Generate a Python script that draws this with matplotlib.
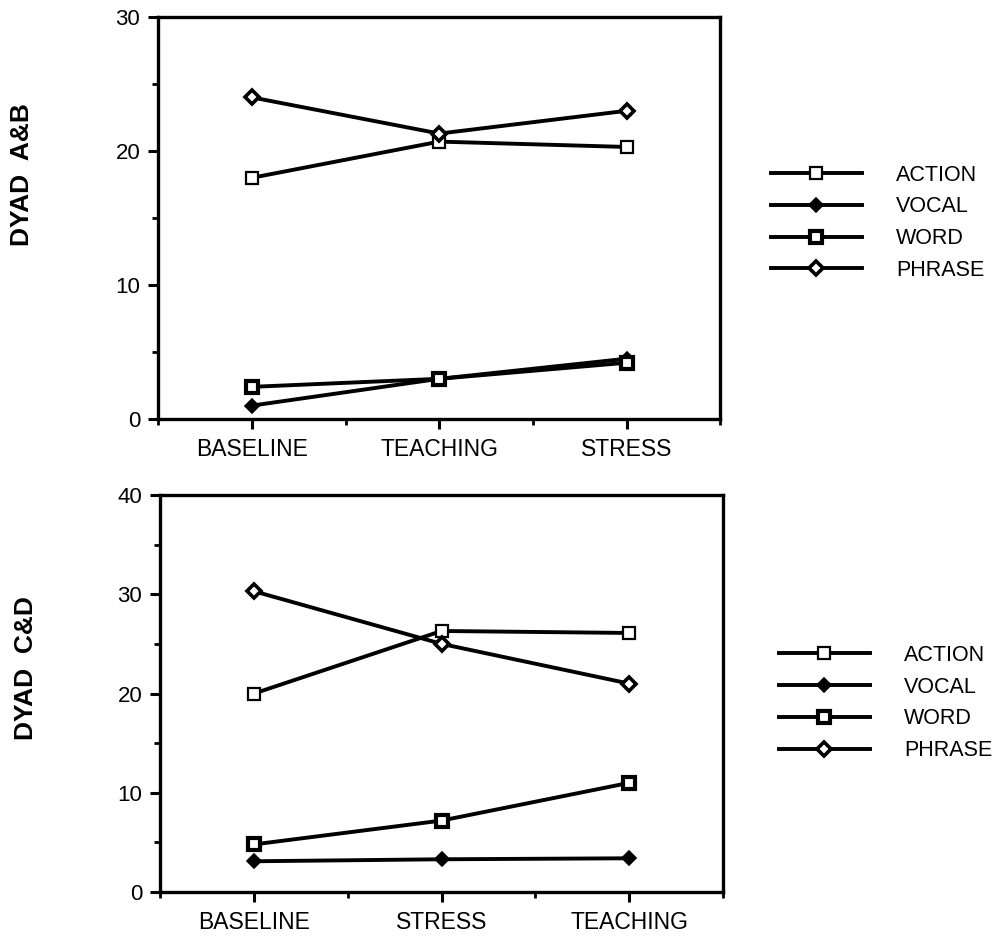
import matplotlib
matplotlib.use('Agg')
import matplotlib.pyplot as plt
from matplotlib.ticker import MultipleLocator
import numpy as np

plt.rcParams['font.family'] = ['Liberation Sans', 'DejaVu Sans']

# ----- data -----
series = ['ACTION', 'VOCAL', 'WORD', 'PHRASE']

ab_conditions = ['BASELINE', 'TEACHING', 'STRESS']
ab_action = [18.0, 20.7, 20.3]
ab_vocal = [1.0, 3.0, 4.5]
ab_word = [2.4, 3.0, 4.2]
ab_phrase = [24.0, 21.3, 23.0]

cd_conditions = ['BASELINE', 'STRESS', 'TEACHING']
cd_action = [20.0, 26.3, 26.1]
cd_vocal = [3.1, 3.3, 3.4]
cd_word = [4.8, 7.2, 11.0]
cd_phrase = [30.3, 25.0, 21.0]

# marker look per series: (marker, size, facecolor, edgewidth)
STYLE = {
    'ACTION': ('s', 8, 'white', 1.6),
    'VOCAL': ('D', 7, 'black', 1.2),
    'WORD': ('s', 8, 'white', 3.0),
    'PHRASE': ('D', 7.5, 'white', 2.6),
}

fig = plt.figure(figsize=(9.95, 9.38), dpi=100)
ax1 = fig.add_axes([0.159, 0.5533, 0.565, 0.4286])
ax2 = fig.add_axes([0.161, 0.049, 0.5656, 0.4233])


def draw_panel(ax, cats, vals, ymax, leg_anchor):
    x = np.arange(len(cats))
    for name, v in zip(series, vals):
        m, ms, fc, mew = STYLE[name]
        ax.plot(x, v, color='black', lw=2.8, marker=m, markersize=ms,
                markerfacecolor=fc, markeredgecolor='black',
                markeredgewidth=mew, label=name, clip_on=False)
    ax.set_xlim(-0.5, 2.5)
    ax.set_ylim(0, ymax)
    ax.set_xticks(x)
    ax.set_xticklabels(cats, fontsize=16.5)
    ax.xaxis.set_minor_locator(MultipleLocator(0.5))
    ax.yaxis.set_major_locator(MultipleLocator(10))
    ax.yaxis.set_minor_locator(MultipleLocator(5))
    ax.tick_params(axis='both', which='major', direction='out', length=7,
                   width=2.2)
    ax.tick_params(axis='x', which='major', pad=7, labelsize=16.5)
    ax.tick_params(axis='y', which='major', pad=6, labelsize=16)
    ax.tick_params(axis='both', which='minor', direction='out', length=4,
                   width=2)
    ax.tick_params(top=False, right=False, which='both')
    for s in ax.spines.values():
        s.set_linewidth(2.4)
    ax.legend(loc='center left', bbox_to_anchor=leg_anchor,
              bbox_transform=fig.transFigure, frameon=False, fontsize=15.5,
              handlelength=4.2, handletextpad=1.6, labelspacing=0.5,
              borderpad=0, borderaxespad=0)


draw_panel(ax1, ab_conditions, [ab_action, ab_vocal, ab_word, ab_phrase],
           30, (0.775, 0.7625))
draw_panel(ax2, cd_conditions, [cd_action, cd_vocal, cd_word, cd_phrase],
           40, (0.783, 0.2505))

fig.text(0.022, 1 - 175 / 938, 'DYAD  A&B', rotation=90, ha='center',
         va='center', fontsize=19, fontweight='bold')
fig.text(0.026, 1 - 668 / 938, 'DYAD  C&D', rotation=90, ha='center',
         va='center', fontsize=19, fontweight='bold')

fig.savefig('out.png', dpi=100)
